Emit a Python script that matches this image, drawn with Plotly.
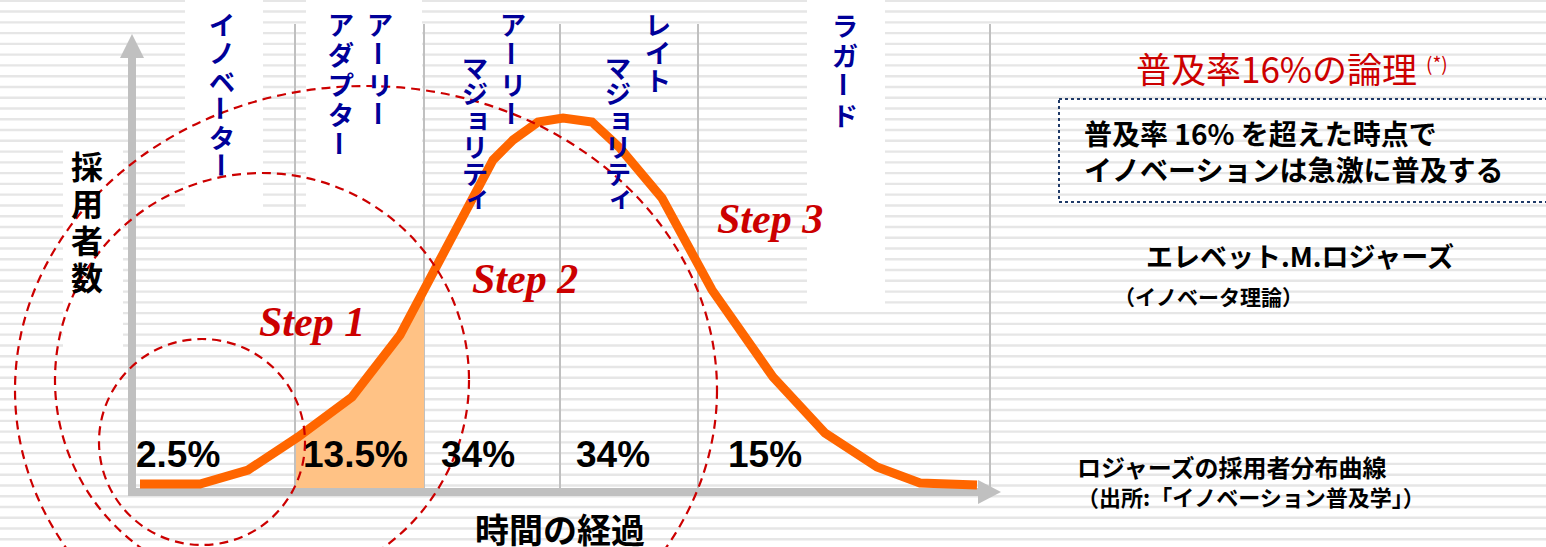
import plotly.graph_objects as go

# ---------------- data ----------------
# time axis: 0 at the vertical axis, adopters: 0 at the horizontal axis
time_pts = [8, 68, 116, 166, 220, 268, 361, 381, 406, 431, 460, 488, 530, 580, 641, 693, 745, 788, 845]
adopters = [4, 4, 18, 51, 91, 153, 328, 348, 366, 370, 366, 340, 290, 198, 111, 55, 21, 5, 3]

# early-adopter area (shaded)
fill_time = [164, 166, 220, 268, 292]
fill_adopters = [50, 51, 91, 153, 196]

segment_bounds = [163, 292, 428, 566, 858]
segment_shares = ["2.5%", "13.5%", "34%", "34%", "15%"]
segment_names = ["イノベーター", "アーリーアダプター", "アーリーマジョリティ", "レイトマジョリティ", "ラガード"]
step_labels = ["Step 1", "Step 2", "Step 3"]

y_title = "採用者数"
x_title = "時間の経過"
head_title = "普及率16%の論理"
head_note = "(*)"
box_lines = ["普及率 16% を超えた時点で", "イノベーションは急激に普及する"]
author = "エレベット.M.ロジャーズ"
theory = "（イノベータ理論）"
source_lines = ["ロジャーズの採用者分布曲線", "（出所:「イノベーション普及学」）"]

# ---------------- layout helpers ----------------
W, H = 1546, 547
X0, Y0 = 132, 488


def X(px):
    return px - X0


def Y(py):
    return Y0 - py


JP = "Noto Sans CJK JP"
RED = "#cc0000"
BLUE = "#000099"
GRAY = "#c0c0c0"

shapes = []
annotations = []

# background stripes
k = 0
while True:
    yc = 0.8 + k * 10.77
    if yc > H + 2:
        break
    shapes.append(dict(type="rect", layer="below", x0=X(0), x1=X(W), y0=Y(yc - 1.2), y1=Y(yc + 1.2),
                       fillcolor="#e6e6e6", line=dict(width=0)))
    k += 1

# white text boxes
for (l, t, r, b) in [(185, 0, 263, 207), (306, 0, 422, 215), (807, 0, 885, 305), (63, 147, 123, 348)]:
    shapes.append(dict(type="rect", layer="below", x0=X(l), x1=X(r), y0=Y(t), y1=Y(b),
                       fillcolor="white", line=dict(width=0)))

# vertical separators
for xb in segment_bounds:
    shapes.append(dict(type="line", layer="below", x0=xb, x1=xb, y0=0, y1=Y(24),
                       line=dict(color=GRAY, width=2)))

# axes with arrows
shapes.append(dict(type="line", layer="below", x0=X(132), x1=X(132), y0=Y(496), y1=Y(56),
                   line=dict(color=GRAY, width=8)))
shapes.append(dict(type="path", layer="below",
                   path=f"M {X(120)},{Y(58)} L {X(144)},{Y(58)} L {X(132)},{Y(34)} Z",
                   fillcolor=GRAY, line=dict(width=0)))
shapes.append(dict(type="line", layer="below", x0=X(128), x1=X(980), y0=Y(492), y1=Y(492),
                   line=dict(color=GRAY, width=8)))
shapes.append(dict(type="path", layer="below",
                   path=f"M {X(978)},{Y(480)} L {X(978)},{Y(504)} L {X(1001)},{Y(492)} Z",
                   fillcolor=GRAY, line=dict(width=0)))

# dashed ellipses
for (cx, cy, rx, ry) in [(202, 442, 103, 103), (262, 380, 207, 207), (366, 390, 351, 304)]:
    shapes.append(dict(type="circle", layer="above", x0=X(cx - rx), x1=X(cx + rx), y0=Y(cy + ry), y1=Y(cy - ry),
                       line=dict(color=RED, width=2.2, dash="9px,6px")))

# dotted box on the right
shapes.append(dict(type="rect", layer="above", x0=X(1059), x1=X(1552), y0=Y(99), y1=Y(202),
                   line=dict(color="#1f3a68", width=2, dash="dot")))


def vtext(text, cx, top, pitch, size, color):
    """Vertical (tategaki) text: one upright glyph per cell, long vowel mark turned."""
    for i, ch in enumerate(text):
        cy = top + size * 0.44 + i * pitch
        ann = dict(x=X(cx), y=Y(cy), text=f"<b>{ch}</b>", showarrow=False,
                   xanchor="center", yanchor="middle",
                   font=dict(family=JP, size=size, color=color))
        if ch == "ー":
            ann["textangle"] = 90
        if ch in "ャュョィッ":
            ann["xshift"] = 3
            ann["yshift"] = 3
        annotations.append(ann)


# category labels (vertical)
vtext("イノベーター", 222, 12, 28.3, 26, BLUE)
vtext("アーリー", 380, 12, 30, 26, BLUE)
vtext("アダプター", 341, 12, 30, 26, BLUE)
vtext("アーリー", 513, 12, 30, 26, BLUE)
vtext("マジョリティ", 475, 55, 26.5, 26, BLUE)
vtext("レイト", 658, 12, 28, 26, BLUE)
vtext("マジョリティ", 618, 55, 26.5, 26, BLUE)
vtext("ラガード", 845, 13, 30, 26, BLUE)

# y title (vertical)
vtext(y_title, 87, 151, 37, 32, "black")

# x title
annotations.append(dict(x=X(560), y=Y(528), text=f"<b>{x_title}</b>", showarrow=False,
                        xanchor="center", yanchor="middle", font=dict(family=JP, size=34, color="black")))

# percentages
for share, cx in zip(segment_shares, [178, 355, 478, 613, 765]):
    annotations.append(dict(x=X(cx), y=Y(454), text=f"<b>{share}</b>", showarrow=False,
                            xanchor="center", yanchor="middle",
                            font=dict(family="Liberation Sans", size=37, color="black")))

# steps
for lab, (cx, cy) in zip(step_labels, [(312, 322), (525, 279), (770, 219)]):
    annotations.append(dict(x=X(cx), y=Y(cy), text=f"<b><i>{lab}</i></b>", showarrow=False,
                            xanchor="center", yanchor="middle",
                            font=dict(family="Liberation Serif", size=42, color=RED)))

# right side texts
annotations.append(dict(x=X(1276), y=Y(67), text=head_title, showarrow=False,
                        xanchor="center", yanchor="middle", font=dict(family=JP, size=35, color=RED)))
annotations.append(dict(x=X(1424), y=Y(62), text=head_note, showarrow=False,
                        xanchor="left", yanchor="middle", font=dict(family=JP, size=19, color=RED)))
annotations.append(dict(x=X(1082), y=Y(151), text="<b>" + "<br>".join(box_lines) + "</b>", showarrow=False,
                        xanchor="left", yanchor="middle", align="left",
                        font=dict(family=JP, size=28, color="black")))
annotations.append(dict(x=X(1300), y=Y(255), text=f"<b>{author}</b>", showarrow=False,
                        xanchor="center", yanchor="middle", font=dict(family=JP, size=27, color="black")))
annotations.append(dict(x=X(1208), y=Y(296), text=f"<b>{theory}</b>", showarrow=False,
                        xanchor="center", yanchor="middle", font=dict(family=JP, size=21, color="black")))
annotations.append(dict(x=X(1075), y=Y(480),
                        text=f'<b><span style="font-size:24px">{source_lines[0]}</span><br>{source_lines[1]}</b>',
                        showarrow=False, xanchor="left", yanchor="middle", align="left",
                        font=dict(family=JP, size=22, color="black")))

# ---------------- traces ----------------
fig = go.Figure()
fig.add_trace(go.Scatter(
    x=[fill_time[0]] + fill_time + [fill_time[-1]],
    y=[0] + fill_adopters + [0],
    mode="lines", fill="toself", fillcolor="#ffc285",
    line=dict(width=0), hoverinfo="skip", showlegend=False))
fig.add_trace(go.Scatter(
    x=time_pts, y=adopters, mode="lines",
    line=dict(color="#ff6600", width=9), hoverinfo="skip", showlegend=False))

fig.update_layout(
    width=W, height=H, autosize=False,
    margin=dict(l=0, r=0, t=0, b=0, pad=0),
    paper_bgcolor="white", plot_bgcolor="rgba(0,0,0,0)",
    xaxis=dict(range=[X(0), X(W)], visible=False, fixedrange=True),
    yaxis=dict(range=[Y(H), Y(0)], visible=False, fixedrange=True),
    shapes=shapes, annotations=annotations, showlegend=False,
)

fig.write_html("out.html")
